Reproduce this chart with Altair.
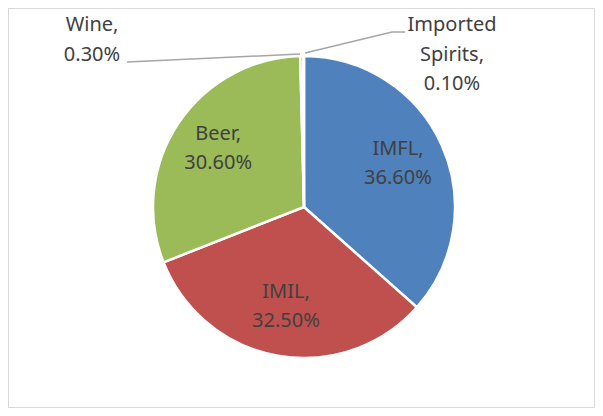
import altair as alt
import pandas as pd

categories = ["IMFL", "IMIL", "Beer", "Wine", "Imported Spirits"]
shares = [36.6, 32.5, 30.6, 0.3, 0.1]
colors = ["#4F81BD", "#C0504D", "#9BBB59", "#8064A2", "#4BACC6"]

df = pd.DataFrame({"category": categories, "share": shares,
                   "idx": list(range(len(categories)))})

CX, CY = 296, 199
FONT = "Noto Sans"
TXT = "#404040"

label_expr = "replace(datum.category, ' ', '\\n') + ',\\n' + format(datum.share, '.2f') + '%'"

base = alt.Chart(df).transform_calculate(
    label=label_expr,
    inner="datum.share >= 1 ? " + label_expr + " : ''",
).encode(
    theta=alt.Theta("share:Q", stack=True),
    order=alt.Order("idx:Q"),
)

arcs = base.mark_arc(outerRadius=151, stroke="white", strokeWidth=2.5).encode(
    color=alt.Color("category:N", scale=alt.Scale(domain=categories, range=colors), legend=None),
    x=alt.value(CX), y=alt.value(CY),
)

inner = base.mark_text(radius=103, dy=-16, fontSize=20, lineHeight=29, font=FONT,
                       color=TXT, lineBreak="\n", baseline="middle", align="center").encode(
    text="inner:N", x=alt.value(CX), y=alt.value(CY),
)

def outer_label(cat, x, y):
    return alt.Chart(df).transform_filter(f"datum.category == '{cat}'").transform_calculate(
        label=label_expr
    ).mark_text(fontSize=20, lineHeight=29.5, font=FONT, color=TXT, lineBreak="\n",
                baseline="middle", align="center").encode(
        text="label:N", x=alt.value(x), y=alt.value(y))

def leader(cat, x, y, x2, y2):
    return alt.Chart(df).transform_filter(f"datum.category == '{cat}'").mark_rule(
        color="#A6A6A6", strokeWidth=1.5).encode(
        x=alt.value(x), y=alt.value(y), x2=alt.value(x2), y2=alt.value(y2))

wine_lbl = outer_label("Wine", 84, 17)
spir_lbl = outer_label("Imported Spirits", 444, 17)
wine_line = leader("Wine", 119, 54, 292, 46)
spir_line1 = leader("Imported Spirits", 297, 45, 384, 24)
spir_line2 = leader("Imported Spirits", 384, 24, 397, 24)

chart = alt.layer(arcs, inner, wine_line, spir_line1, spir_line2, wine_lbl, spir_lbl).properties(
    width=587, height=400,
    autosize=alt.AutoSizeParams(type="none"),
    padding=0,
    background="white",
).configure_view(stroke="#D9D9D9", strokeWidth=2)

chart.save("out.html", embed_options={"renderer": "svg", "actions": False})
